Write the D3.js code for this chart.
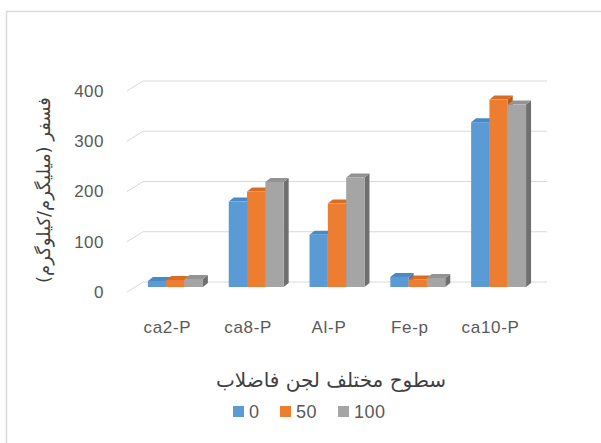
<!DOCTYPE html>
<html><head><meta charset="utf-8">
<script src="https://cdn.jsdelivr.net/npm/d3@7"></script>
<style>body{margin:0;background:#fff}svg{display:block}</style>
</head><body>
<script>
const categories = ["ca2-P", "ca8-P", "Al-P", "Fe-p", "ca10-P"];
const seriesNames = ["0", "50", "100"];
const s0 = [12, 170, 104, 20, 328];
const s50 = [14, 190, 166, 15, 373];
const s100 = [16, 209, 218, 18, 363];
const yTicks = [0, 100, 200, 300, 400];
const xTitle = "سطوح مختلف لجن فاضلاب";
const yTitle = "فسفر (میلیگرم/کیلوگرم)";

const seriesValues = [s0, s50, s100];
const colors = ["#5B9BD5", "#ED7D31", "#A5A5A5"];
const topColors = ["#4a8ac4", "#d96c22", "#939393"];
const sideColors = ["#3f75a8", "#b85a1c", "#6f6f6f"];

const W = 601, H = 443;
const svg = d3.select("body").append("svg").attr("width", W).attr("height", H);
svg.append("rect").attr("width", W).attr("height", H).attr("fill", "#fff");
svg.append("rect").attr("x", 6.5).attr("y", 11.5).attr("width", 700).attr("height", 600)
  .attr("fill", "none").attr("stroke", "#d9d9d9").attr("stroke-width", 1.5);

const backDx = 16, backDy = -10;
const midDx = 8, midDy = -5;
const y = d3.scaleLinear().domain([0, 400]).range([292, 91]);
const x = d3.scaleBand().domain(categories).range([127, 531]);
const xs = d3.scaleBand().domain(seriesNames).range([x.bandwidth() * 0.16, x.bandwidth() * 0.84]);
const latin = "Liberation Sans, Arial, sans-serif";

// gridlines
const g = svg.append("g");
yTicks.forEach(t => {
  const yy = y(t);
  g.append("line").attr("x1", 127).attr("y1", yy).attr("x2", 127 + backDx).attr("y2", yy + backDy)
    .attr("stroke", "#d9d9d9").attr("stroke-width", 1);
  g.append("line").attr("x1", 127 + backDx).attr("y1", yy + backDy).attr("x2", 531 + backDx).attr("y2", yy + backDy)
    .attr("stroke", "#d9d9d9").attr("stroke-width", 1);
  svg.append("text").attr("x", 104).attr("y", yy).attr("dy", "0.35em").attr("text-anchor", "end")
    .attr("font-family", latin).attr("font-size", 17).attr("letter-spacing", 0.5)
    .attr("fill", "#595959").text(t);
});

// bars
const dDx = 5, dDy = -4;
categories.forEach((c, ci) => {
  seriesNames.forEach((s, si) => {
    const v = seriesValues[si][ci];
    const x0 = x(c) + xs(s) + midDx;
    const w = xs.bandwidth();
    const yb = y(0) + midDy, yt = y(v) + midDy;
    const bg = svg.append("g");
    bg.append("path").attr("d", `M${x0 + w},${yt} L${x0 + w + dDx},${yt + dDy} L${x0 + w + dDx},${yb + dDy} L${x0 + w},${yb} Z`)
      .attr("fill", sideColors[si]);
    bg.append("path").attr("d", `M${x0},${yt} L${x0 + dDx},${yt + dDy} L${x0 + w + dDx},${yt + dDy} L${x0 + w},${yt} Z`)
      .attr("fill", topColors[si]);
    bg.append("rect").attr("x", x0).attr("y", yt).attr("width", w).attr("height", yb - yt).attr("fill", colors[si]);
  });
});

// category labels
categories.forEach(c => {
  svg.append("text").attr("x", x(c) + x.bandwidth() / 2).attr("y", 327).attr("dy", "0.35em")
    .attr("text-anchor", "middle").attr("font-family", latin)
    .attr("font-size", 17).attr("letter-spacing", 0.7).attr("fill", "#595959").text(c);
});

// axis titles
svg.append("text").attr("x", 331).attr("y", 380).attr("dy", "0.35em").attr("text-anchor", "middle")
  .attr("font-family", "DejaVu Sans, sans-serif").attr("font-size", 20).attr("fill", "#404040")
  .attr("direction", "rtl").text(xTitle);
svg.append("text").attr("transform", "translate(44,190) rotate(-90)").attr("dy", "0.35em")
  .attr("text-anchor", "middle").attr("font-family", "DejaVu Sans, sans-serif").attr("font-size", 18)
  .attr("fill", "#404040").attr("direction", "rtl").text(yTitle);

// legend
const legendX = [233, 280, 338];
seriesNames.forEach((s, i) => {
  svg.append("rect").attr("x", legendX[i]).attr("y", 406).attr("width", 11).attr("height", 11).attr("fill", colors[i]);
  svg.append("text").attr("x", legendX[i] + 16).attr("y", 412).attr("dy", "0.35em")
    .attr("font-family", latin).attr("font-size", 18).attr("letter-spacing", 0.5)
    .attr("fill", "#595959").text(s);
});
</script>
</body></html>
